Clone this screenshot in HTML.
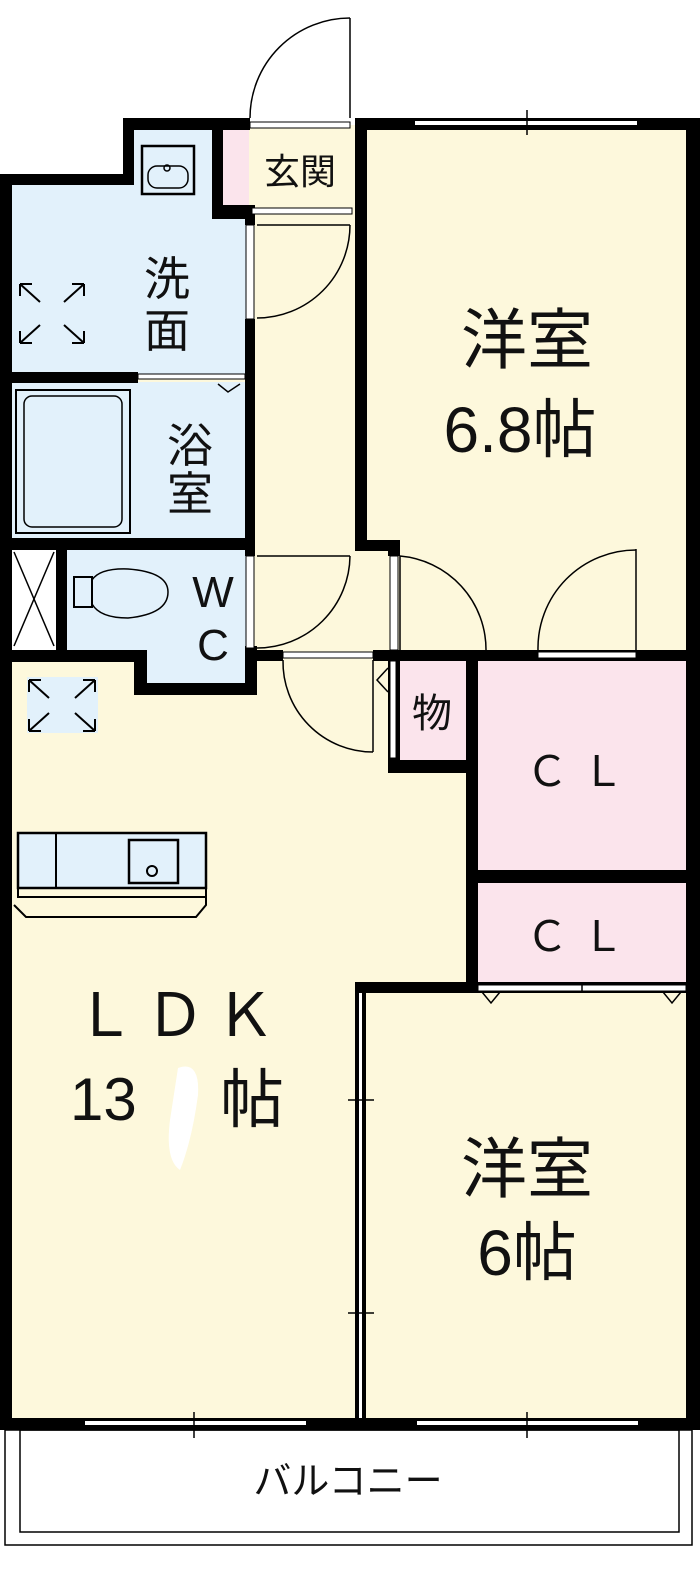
<!DOCTYPE html>
<html><head><meta charset="utf-8"><style>
html,body{margin:0;padding:0;background:#fff;}
svg{display:block;}
text{font-family:"Liberation Sans","Noto Sans CJK JP",sans-serif;fill:#111;}
</style></head><body>
<svg width="700" height="1571" viewBox="0 0 700 1571" xmlns="http://www.w3.org/2000/svg">
<!-- floors -->
<rect x="10" y="125" width="680" height="1298" fill="#fdf8dc"/>
<rect x="0" y="0" width="123" height="178" fill="#fff"/>
<rect x="0" y="0" width="214" height="125" fill="#fff"/>
<!-- washroom -->
<rect x="11" y="180" width="236" height="194" fill="#e2f1fb"/>
<rect x="130" y="128" width="86" height="60" fill="#e2f1fb"/>
<!-- bath -->
<rect x="11" y="382" width="236" height="158" fill="#e2f1fb"/>
<!-- WC -->
<rect x="64" y="548" width="183" height="110" fill="#e2f1fb"/>
<rect x="145" y="655" width="102" height="32" fill="#e2f1fb"/>
<rect x="11" y="548" width="46" height="102" fill="#fff"/>
<!-- genkan pink -->
<rect x="222" y="128" width="27" height="78" fill="#fbe4ec"/>
<!-- mono / CL -->
<rect x="398" y="660" width="70" height="104" fill="#fbe4ec"/>
<rect x="476" y="660" width="212" height="212" fill="#fbe4ec"/>
<rect x="476" y="880" width="212" height="106" fill="#fbe4ec"/>
<!-- vent icon bg -->
<rect x="27" y="677" width="71" height="56" fill="#e2f1fb"/>

<!-- walls -->
<g fill="#000">
<rect x="0" y="174" width="134" height="11"/>
<rect x="123" y="118" width="11" height="67"/>
<rect x="123" y="118" width="127" height="12"/>
<rect x="355" y="118" width="345" height="12"/>
<rect x="0" y="174" width="12" height="1256"/>
<rect x="686" y="118" width="14" height="1312"/>
<rect x="212" y="118" width="11" height="101"/>
<rect x="212" y="205" width="40" height="14"/>
<rect x="245" y="205" width="10" height="20"/>
<rect x="245" y="319" width="10" height="237"/>
<rect x="245" y="646" width="12" height="49"/>
<rect x="0" y="372" width="138" height="11"/>
<rect x="0" y="538" width="255" height="12"/>
<rect x="56" y="548" width="11" height="110"/>
<rect x="0" y="650" width="145" height="12"/>
<rect x="134" y="650" width="13" height="45"/>
<rect x="134" y="683" width="123" height="12"/>
<rect x="355" y="118" width="12" height="433"/>
<rect x="355" y="540" width="45" height="11"/>
<rect x="388" y="540" width="12" height="16"/>
<rect x="388" y="650" width="312" height="11"/>
<rect x="257" y="650" width="26" height="11"/>
<rect x="373" y="650" width="27" height="11"/>
<rect x="388" y="650" width="12" height="123"/>
<rect x="388" y="760" width="82" height="13"/>
<rect x="466" y="650" width="12" height="342"/>
<rect x="466" y="870" width="234" height="13"/>
<rect x="355" y="982" width="345" height="11"/>
<rect x="355" y="982" width="11" height="448"/>
<rect x="0" y="1418" width="700" height="12"/>
</g>
<!-- white line inside bedroom2 left wall -->
<rect x="359" y="993" width="3" height="425" fill="#fff"/>
<!-- windows top -->
<rect x="415" y="121" width="222" height="4" fill="#fff"/>
<line x1="527" y1="110" x2="527" y2="135" stroke="#000" stroke-width="1.5"/>
<!-- windows bottom -->
<rect x="85" y="1421" width="221" height="4" fill="#fff"/>
<rect x="417" y="1421" width="221" height="4" fill="#fff"/>
<line x1="194" y1="1412" x2="194" y2="1438" stroke="#000" stroke-width="1.5"/>
<line x1="527" y1="1412" x2="527" y2="1438" stroke="#000" stroke-width="1.5"/>
<line x1="348" y1="1100" x2="374" y2="1100" stroke="#000" stroke-width="1.5"/>
<line x1="348" y1="1313" x2="374" y2="1313" stroke="#000" stroke-width="1.5"/>
<!-- door openings white -->
<rect x="250" y="122" width="100" height="6" fill="#fff" stroke="#000" stroke-width="1"/>
<rect x="252" y="208" width="100" height="6" fill="#fff" stroke="#000" stroke-width="1"/>
<rect x="138" y="374" width="107" height="5" fill="#fff" stroke="#000" stroke-width="1"/>
<rect x="246" y="225" width="8" height="94" fill="#fff" stroke="#000" stroke-width="1"/>
<rect x="246" y="556" width="8" height="92" fill="#fff" stroke="#000" stroke-width="1"/>
<rect x="390" y="556" width="8" height="94" fill="#fff" stroke="#000" stroke-width="1"/>
<rect x="538" y="652" width="98" height="6" fill="#fff" stroke="#000" stroke-width="1"/>
<rect x="283" y="652" width="90" height="6" fill="#fff" stroke="#000" stroke-width="1"/>
<rect x="390" y="661" width="6" height="97" fill="#fff" stroke="#000" stroke-width="1"/>
<rect x="478" y="985" width="208" height="6" fill="#fff" stroke="#000" stroke-width="1"/>
<g fill="none" stroke="#000" stroke-width="1.5">
<!-- entrance door -->
<line x1="350" y1="18" x2="350" y2="118"/>
<path d="M350 18 A100 100 0 0 0 250 118"/>
<!-- washroom door -->
<path d="M350 225 A93 93 0 0 1 257 318"/>
<line x1="257" y1="225" x2="350" y2="225"/>
<!-- WC door -->
<path d="M350 556 A93 93 0 0 1 257 648"/>
<line x1="257" y1="556" x2="350" y2="556"/>
<!-- bedroom1 doors -->
<line x1="636" y1="549" x2="636" y2="650"/>
<path d="M636 550 A98 98 0 0 0 538 650"/>
<line x1="400" y1="556" x2="400" y2="650"/>
<path d="M400 556 A94 94 0 0 1 486 650"/>
<!-- LDK door -->
<line x1="373" y1="660" x2="373" y2="752"/>
<path d="M283 660 A90 90 0 0 0 373 752"/>
<path d="M388 668 L377 680 L388 692"/>
<!-- CL triangles -->
<path d="M482 992 L491 1003 L500 992"/>
<path d="M663 992 L672 1003 L681 992"/>
<line x1="582" y1="985" x2="582" y2="991"/>
<!-- bath door triangle -->
<path d="M218 384 L228 392 L240 384"/>
<!-- sink top -->
<rect x="142" y="146" width="52" height="48" stroke-width="2.5"/>
<rect x="148" y="166" width="40" height="22" rx="9"/>
<circle cx="167" cy="168" r="3"/>
<!-- tub -->
<rect x="16" y="390" width="114" height="143" stroke-width="2"/>
<rect x="24" y="396" width="98" height="131" rx="8"/>
<!-- X box -->
<line x1="14" y1="552" x2="54" y2="646"/>
<line x1="54" y1="552" x2="14" y2="646"/>
<!-- toilet -->
<rect x="74" y="577" width="18" height="30" stroke-width="2"/>
<path d="M92 580 Q100 568 128 569 Q168 572 168 592 Q168 614 128 618 Q100 618 92 604"/>
<!-- vent icons -->
<g stroke-width="2">
<path d="M20 284 L20 296 M20 284 L32 284 M20 284 L40 302"/>
<path d="M84 284 L84 296 M84 284 L72 284 M84 284 L64 302"/>
<path d="M20 343 L20 331 M20 343 L32 343 M20 343 L40 325"/>
<path d="M84 343 L84 331 M84 343 L72 343 M84 343 L64 325"/>
<path d="M29 680 L29 692 M29 680 L41 680 M29 680 L49 698"/>
<path d="M95 680 L95 692 M95 680 L83 680 M95 680 L75 698"/>
<path d="M29 731 L29 719 M29 731 L41 731 M29 731 L49 713"/>
<path d="M95 731 L95 719 M95 731 L83 731 M95 731 L75 713"/>
</g>
<!-- kitchen -->
<rect x="18" y="833" width="188" height="55" fill="#e2f1fb" stroke-width="2.5"/>
<line x1="56" y1="833" x2="56" y2="888" stroke-width="2"/>
<rect x="129" y="840" width="49" height="43" stroke-width="2.5"/>
<circle cx="152" cy="871" r="5" stroke-width="2"/>
<rect x="18" y="888" width="188" height="9" stroke-width="2"/>
<path d="M14 905 L26 917 L196 917 L206 905 L206 897" stroke-width="2"/>
<!-- balcony -->
<rect x="5" y="1430" width="687" height="115"/>
<rect x="20" y="1430" width="659" height="102"/>
</g>
<path d="M178 1068 Q200 1060 198 1095 Q192 1140 180 1170 Q165 1160 170 1120 Z" fill="#fff"/>
<!-- labels -->
<text x="300" y="184" font-size="36" text-anchor="middle">玄関</text>
<text x="167" y="295" font-size="46" text-anchor="middle">洗</text>
<text x="167" y="347" font-size="46" text-anchor="middle">面</text>
<text x="190" y="462" font-size="46" text-anchor="middle">浴</text>
<text x="190" y="510" font-size="46" text-anchor="middle">室</text>
<text x="213" y="607" font-size="44" text-anchor="middle">W</text>
<text x="213" y="660" font-size="44" text-anchor="middle">C</text>
<text x="527" y="363" font-size="66" text-anchor="middle">洋室</text>
<text x="520" y="452" font-size="64" text-anchor="middle">6.8帖</text>
<text x="432" y="727" font-size="40" text-anchor="middle">物</text>
<text x="582" y="786" font-size="42" text-anchor="middle" letter-spacing="14">ＣＬ</text>
<text x="582" y="951" font-size="42" text-anchor="middle" letter-spacing="14">ＣＬ</text>
<text x="180" y="1036" font-size="60" text-anchor="middle" letter-spacing="10">ＬＤＫ</text>
<text x="70" y="1120" font-size="60">13</text>
<text x="220" y="1122" font-size="64">帖</text>
<text x="527" y="1192" font-size="66" text-anchor="middle">洋室</text>
<text x="527" y="1275" font-size="64" text-anchor="middle">6帖</text>
<text x="348" y="1494" font-size="38" text-anchor="middle">バルコニー</text>
</svg>
</body></html>
